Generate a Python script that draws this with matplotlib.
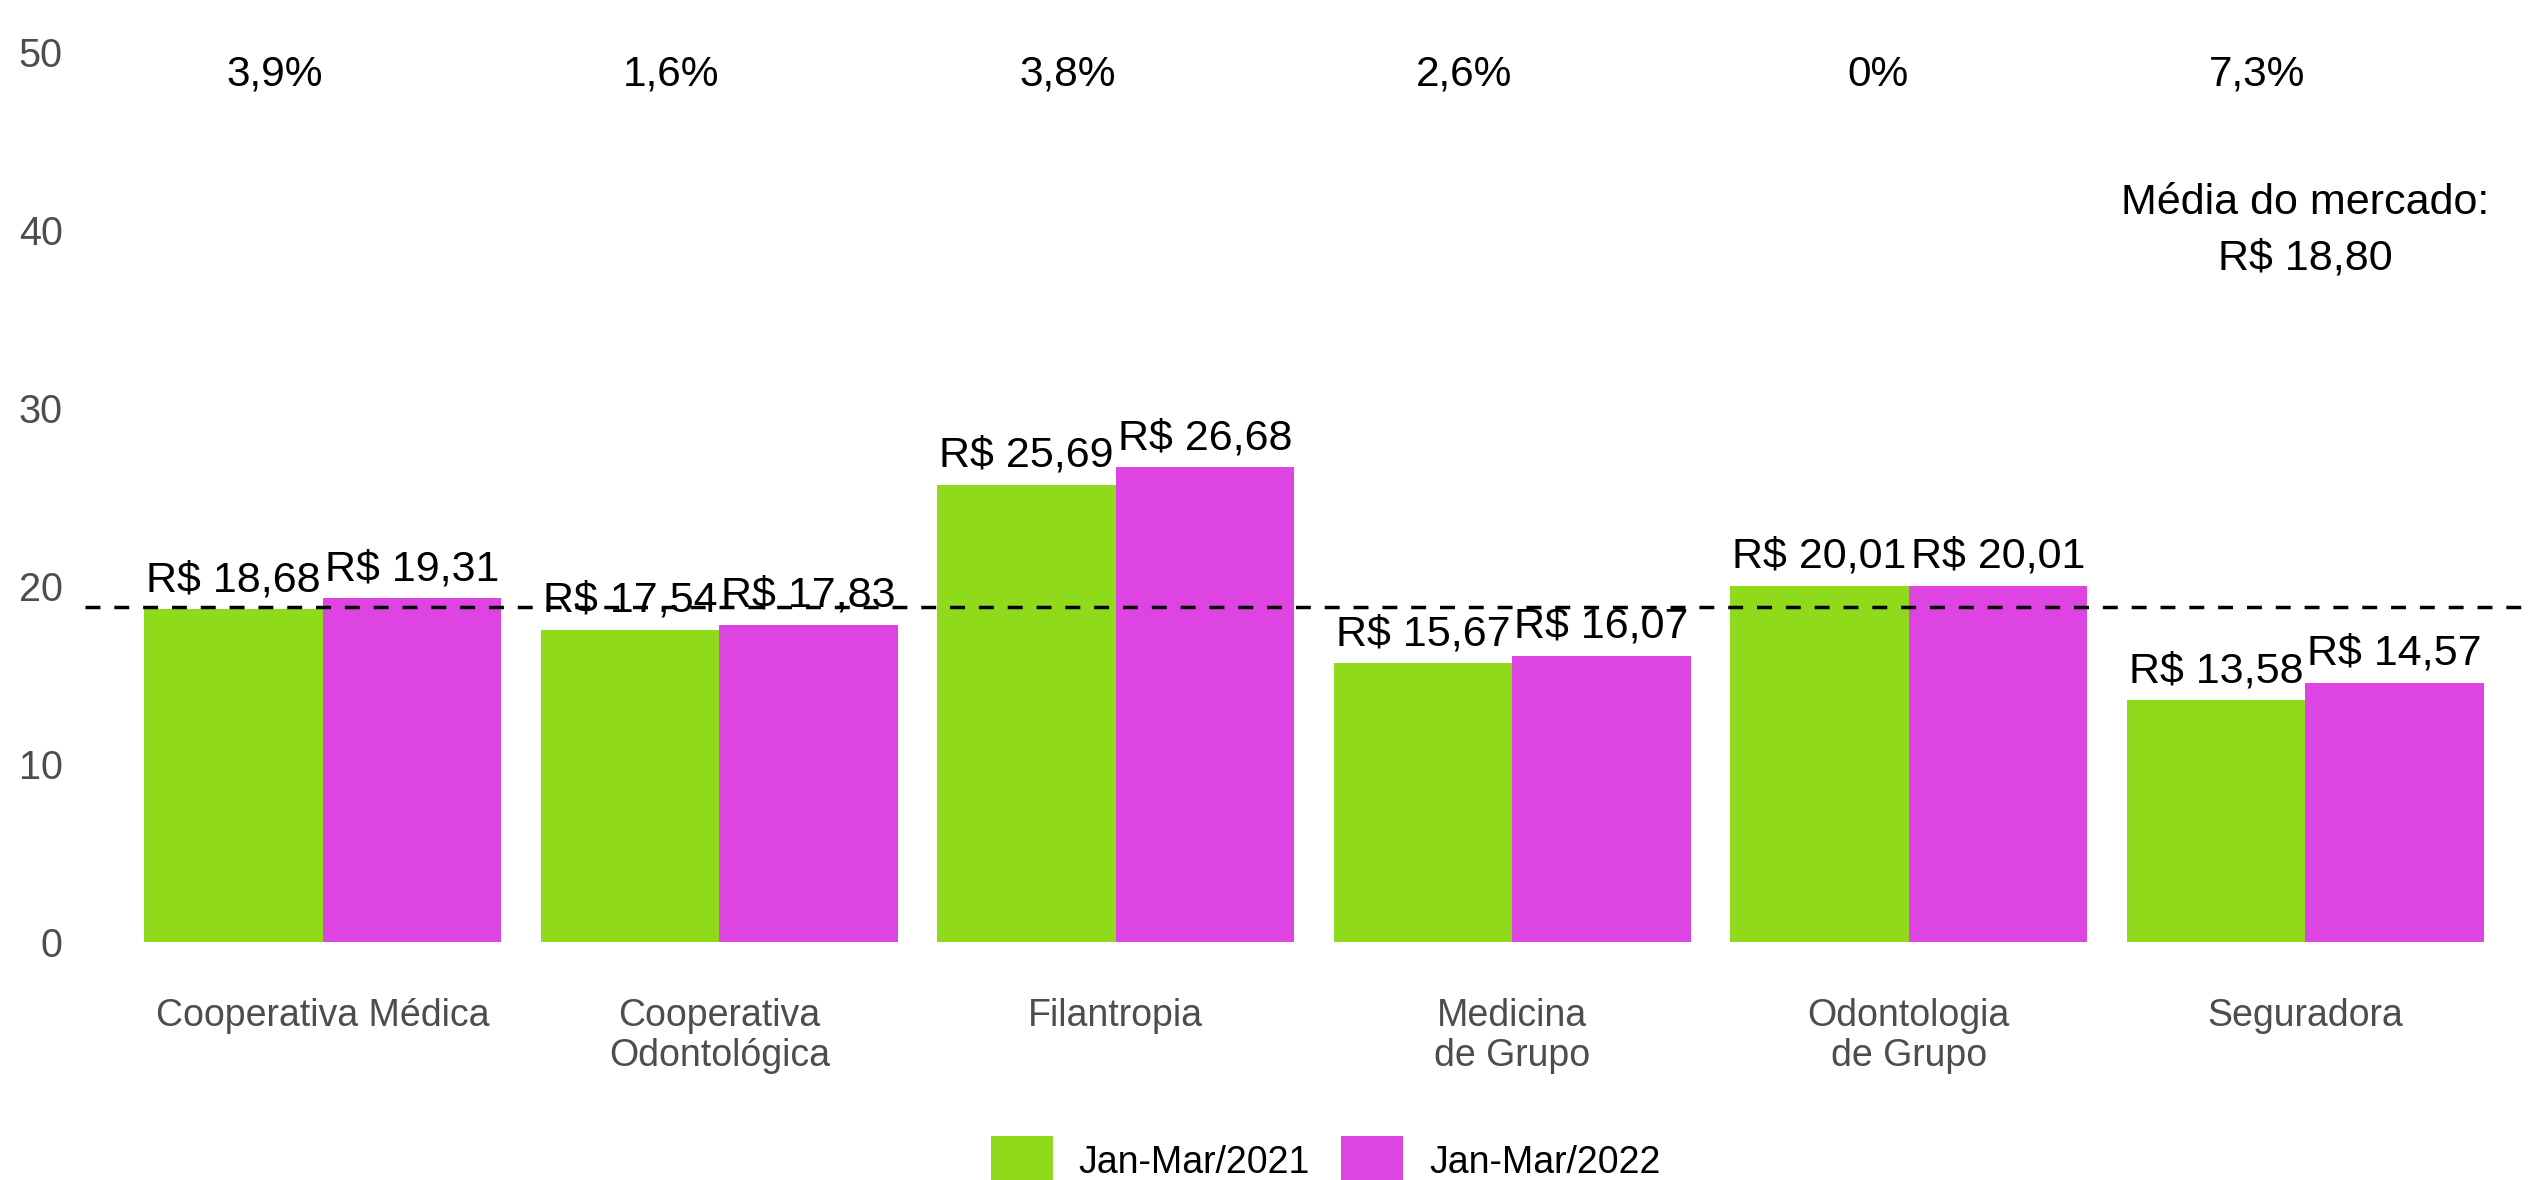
import matplotlib
matplotlib.use("Agg")
import matplotlib.pyplot as plt
import numpy as np

plt.rcParams['font.family'] = ['Liberation Sans', 'DejaVu Sans']

categories = ["Cooperativa Médica", "Cooperativa\nOdontológica", "Filantropia",
              "Medicina\nde Grupo", "Odontologia\nde Grupo", "Seguradora"]
series_names = ["Jan-Mar/2021", "Jan-Mar/2022"]
values_2021 = [18.68, 17.54, 25.69, 15.67, 20.01, 13.58]
values_2022 = [19.31, 17.83, 26.68, 16.07, 20.01, 14.57]
pct_labels = ["3,9%", "1,6%", "3,8%", "2,6%", "0%", "7,3%"]
market_avg = 18.80
yticks = [0, 10, 20, 30, 40, 50]

colors = ["#8FDA1B", "#DD44E2"]

W, H = 2533, 1180
fig = plt.figure(figsize=(W / 100, H / 100), dpi=100)
ax = fig.add_axes([85 / W, 1 - 942 / H, (2543 - 85) / W, (942 - 52) / H])

x = np.arange(1, len(categories) + 1)
bw = 0.45
b1 = ax.bar(x - bw / 2, values_2021, width=bw, color=colors[0], label=series_names[0], zorder=2)
b2 = ax.bar(x + bw / 2, values_2022, width=bw, color=colors[1], label=series_names[1], zorder=2)

ax.axhline(market_avg, color="black", lw=2.5, dashes=(4.3, 4.0), zorder=3)

def fmt(v):
    return "R$ " + f"{v:.2f}".replace(".", ",")

for xs, vals in ((x - bw / 2, values_2021), (x + bw / 2, values_2022)):
    for xi, v in zip(xs, vals):
        ax.annotate(fmt(v), (xi, v), xytext=(0, 13), textcoords="offset points",
                    ha="center", va="baseline", fontsize=31, color="black", zorder=4)

for xi, p in zip(x, pct_labels):
    ax.text(xi, 48.1, p, ha="right", va="baseline", fontsize=30.5, color="black")

ax.text(x[-1], 40.9, "Média do mercado:", ha="center", va="baseline", fontsize=31, color="black")
ax.text(x[-1], 37.8, fmt(market_avg), ha="center", va="baseline", fontsize=31, color="black")

ax.set_xlim(0.4, 6.6)
ax.set_ylim(0, 50)
ax.set_yticks(yticks)
ax.set_yticklabels([str(t) for t in yticks])
ax.set_xticks(x)
ax.set_xticklabels(categories, linespacing=1.16)
ax.tick_params(axis="both", length=0, labelsize=27, labelcolor="#4D4D4D")
ax.tick_params(axis="y", labelsize=28.5, pad=16)
ax.tick_params(axis="x", pad=40)
for s in ax.spines.values():
    s.set_visible(False)

fig.legend(handles=[b1, b2], labels=series_names, loc="upper left",
           bbox_to_anchor=(991 / W, 1 - 1136 / H), frameon=False, fontsize=27,
           ncol=2, handlelength=1.65, handleheight=1.65, handletextpad=0.69,
           columnspacing=0.83, borderpad=0, borderaxespad=0)

fig.savefig("out.png", dpi=100)
